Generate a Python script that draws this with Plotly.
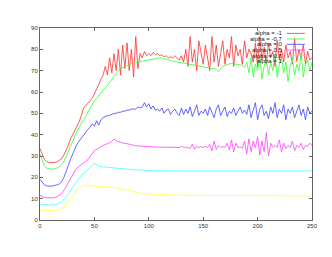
import plotly.graph_objects as go

# x positions
x_fine = list(range(0, 251, 2))
x_coarse = list(range(0, 251, 5))

labels = ["alpha = -1", "alpha = -0.7", "alpha = 0", "alpha = 0.5", "alpha = 0.8", "alpha = 1"]
colors = ["#ff3030", "#30ff30", "#4040ff", "#ff40ff", "#40ffff", "#ffff40"]

red = [
    33.5, 30.5, 28.5, 27.5, 27.0, 26.9, 26.9, 27.0, 27.3, 28.0,
    28.8, 30.5, 32.5, 35.0, 38.0, 40.0, 42.0, 44.0, 46.0, 49.0,
    52.5, 53.5, 55.0, 56.0, 57.0, 59.0, 61.0, 63.5, 66.0, 68.0,
    72.0, 68.0, 76.0, 69.0, 78.0, 70.0, 80.0, 68.0, 82.0, 71.0,
    83.0, 70.0, 80.0, 67.0, 86.0, 71.0, 78.0, 76.0, 79.0, 77.0,
    78.0, 77.0, 78.5, 77.5, 78.0, 77.0, 77.5, 76.5, 77.0, 76.0,
    76.5, 76.0, 77.0, 76.0, 75.0, 77.0, 74.0, 80.0, 72.0, 86.0,
    74.0, 80.0, 70.0, 84.0, 78.0, 73.0, 82.0, 76.0, 70.0, 86.0,
    74.0, 82.0, 72.0, 78.0, 84.0, 73.0, 80.0, 76.0, 86.0, 72.0,
    82.0, 77.0, 80.0, 73.0, 84.0, 76.0, 80.0, 78.0, 74.0, 83.0,
    72.0, 86.0, 75.0, 81.0, 73.0, 83.0, 76.0, 79.0, 72.0, 84.0,
    75.0, 80.0, 74.0, 82.0, 76.0, 79.0, 73.0, 85.0, 74.0, 80.0,
    76.0, 82.0, 73.0, 79.0, 75.0, 76.0,
]

green = [
    31.0, 28.0, 25.5, 24.3, 23.9, 23.8, 23.8, 24.0, 24.4, 25.0,
    26.0, 27.5, 29.5, 32.0, 34.5, 37.0, 39.5, 41.5, 43.5, 45.5,
    47.0, 48.5, 50.5, 52.5, 54.5, 56.0, 57.0, 58.5, 60.0, 61.0,
    62.0, 63.0, 64.5, 66.0, 67.5, 69.0, 70.0, 71.0, 71.5, 72.0,
    72.5, 73.0, 73.3, 73.5, 73.8, 74.0, 74.2, 74.4, 74.6, 74.8,
    75.0, 75.3, 75.6, 75.8, 76.0, 76.0, 76.0, 75.5, 75.5, 75.0,
    74.8, 74.5, 74.3, 74.0, 73.8, 73.6, 73.4, 73.2, 73.0, 72.8,
    72.7, 72.4, 72.2, 72.0, 71.8, 71.6, 71.4, 71.2, 71.0, 71.0,
    71.0, 70.5, 69.5, 71.0, 72.0, 72.5, 73.0, 73.2, 73.4, 73.2,
    73.0, 73.0, 72.8, 72.5, 71.5, 74.0, 69.0, 76.0, 67.0, 73.0,
    70.0, 77.0, 66.0, 72.0, 75.0, 68.0, 74.0, 70.0, 77.0, 67.0,
    73.0, 76.0, 69.0, 74.0, 65.0, 72.0, 76.0, 68.0, 73.0, 70.0,
    78.0, 67.0, 73.0, 75.0, 70.0, 74.0,
]

blue = [
    19.0, 17.5, 16.5, 16.0, 15.8, 15.8, 16.0, 16.2, 16.5, 17.0,
    18.0, 20.0, 22.5, 25.5, 28.5, 31.0, 33.5, 35.5, 37.0, 38.5,
    40.0, 41.5, 42.5, 43.5, 45.0, 44.0, 46.5, 44.5, 47.0, 48.0,
    48.5, 49.0, 49.0, 49.5, 50.0, 50.0, 50.5, 50.5, 51.0, 51.0,
    51.5, 51.5, 52.0, 52.0, 52.0, 53.0, 52.5, 53.0, 55.0, 53.0,
    54.5, 52.0, 53.5, 51.5, 52.0, 51.0, 52.5, 50.0, 51.5, 52.0,
    49.5, 51.0, 52.0, 50.0, 49.0, 52.5, 49.5, 52.0, 50.0, 53.0,
    48.5, 51.0, 54.0, 49.0, 51.0, 50.0, 52.0, 49.0, 53.0, 50.5,
    48.0, 52.0, 54.0, 49.0, 51.0, 53.0, 48.5, 51.0, 50.0, 52.5,
    49.0, 51.0, 53.0, 50.0, 51.5, 49.5, 54.0, 48.0, 51.0, 55.0,
    47.0, 52.0, 54.0, 49.0, 51.0, 47.5, 53.0, 50.0, 55.0, 48.0,
    52.0, 50.0, 54.0, 47.0, 52.0, 50.0, 53.0, 48.0, 51.0, 54.0,
    49.0, 52.0, 47.0, 53.0, 50.0, 51.0,
]

magenta = [
    11.5, 11.0, 10.6, 10.4, 10.3, 10.3, 10.4, 10.6, 11.0, 11.6,
    12.5, 13.8, 15.5, 17.5, 19.5, 21.5, 23.0, 24.3, 25.2, 26.0,
    26.8, 27.5, 28.3, 29.5, 31.0, 32.5, 33.0, 33.5, 34.3, 35.0,
    35.3, 35.8, 36.2, 36.8, 38.0, 37.2, 36.8, 36.4, 36.0, 36.0,
    35.7, 35.5, 35.3, 35.0, 34.8, 34.7, 34.6, 34.5, 34.5, 34.4,
    34.4, 34.3, 34.3, 34.2, 34.2, 34.2, 34.2, 34.1, 34.1, 34.1,
    34.0, 34.0, 34.0, 34.0, 34.0, 34.5, 34.0, 34.2, 34.0, 33.5,
    35.5, 33.2, 34.5, 34.0, 34.3, 34.0, 34.5, 34.0, 35.5, 32.5,
    37.0, 33.0, 35.0, 34.0, 34.5, 34.0, 36.0, 33.0, 37.5, 32.0,
    36.0, 34.0, 34.3, 33.5, 37.0, 31.0, 38.0, 32.0, 37.0, 34.0,
    39.0, 30.5, 37.0, 32.0, 41.0, 30.0, 36.0, 34.0, 35.0, 34.0,
    37.5, 32.0, 36.0, 33.5, 35.0, 34.0, 37.0, 32.5, 35.0, 34.0,
    36.0, 33.0, 35.0, 34.5, 36.0, 35.0,
]

cyan = [
    7.5, 7.1, 7.0, 7.3, 8.5, 11.5, 15.5, 19.0, 22.0, 24.0,
    26.6, 25.0, 24.8, 24.5, 24.2, 24.0, 23.8, 23.6, 23.5, 23.3,
    23.2, 23.1, 23.1, 23.0, 23.0, 23.0, 23.0, 23.0, 23.0, 23.0,
    23.0, 23.0, 23.0, 23.0, 23.0, 23.0, 23.0, 23.0, 23.0, 23.0,
    23.0, 23.0, 23.0, 23.0, 23.0, 23.0, 23.0, 23.0, 23.0, 23.0,
    23.0,
]

yellow = [
    4.7, 4.4, 4.3, 4.5, 5.3, 7.5, 11.0, 14.5, 16.5, 16.0,
    15.9, 15.8, 15.6, 15.4, 15.0, 14.5, 13.9, 13.3, 12.7, 12.4,
    12.2, 12.0, 11.9, 11.8, 11.7, 11.7, 11.6, 11.6, 11.6, 11.5,
    11.5, 11.5, 11.5, 11.4, 11.4, 11.4, 11.4, 11.4, 11.3, 11.3,
    11.3, 11.3, 11.3, 11.3, 11.3, 11.3, 11.3, 11.3, 11.3, 11.3,
    11.3,
]

series = [
    (x_fine, red), (x_fine, green), (x_fine, blue),
    (x_fine, magenta), (x_coarse, cyan), (x_coarse, yellow),
]

fig = go.Figure()
for (xs, ys), name, col in zip(series, labels, colors):
    fig.add_trace(go.Scatter(x=xs[:len(ys)], y=ys, mode="lines", name=name,
                             line=dict(color=col, width=0.8), showlegend=False))

# manual gnuplot-style legend (text right, sample line to the right)
leg_y = [0.972, 0.943, 0.915, 0.885, 0.856, 0.826]
for name, col, yy in zip(labels, colors, leg_y):
    fig.add_annotation(x=0.901, y=yy, xref="paper", yref="paper", text=name,
                       showarrow=False, xanchor="right", yanchor="middle",
                       font=dict(size=6, color="#222", family="Liberation Sans"))
    fig.add_shape(type="line", xref="paper", yref="paper", x0=0.908, x1=0.974,
                  y0=yy, y1=yy, line=dict(color=col, width=0.8))

axis_common = dict(showline=True, linecolor="#666", linewidth=1, mirror="ticks",
                   ticks="inside", ticklen=3, tickcolor="#666", showgrid=False,
                   zeroline=False, tickfont=dict(size=6, color="#333", family="Liberation Sans"))

# page body has an 8px margin, so the figure is shrunk and shifted accordingly
fig.update_layout(
    width=324, height=249,
    margin=dict(l=32, r=20, t=20, b=37),
    paper_bgcolor="white", plot_bgcolor="white",
    xaxis=dict(range=[0, 250], tickvals=[0, 50, 100, 150, 200, 250], **axis_common),
    yaxis=dict(range=[0, 90], tickvals=list(range(0, 91, 10)), **axis_common),
    showlegend=False,
)

fig.write_html("out.html")
